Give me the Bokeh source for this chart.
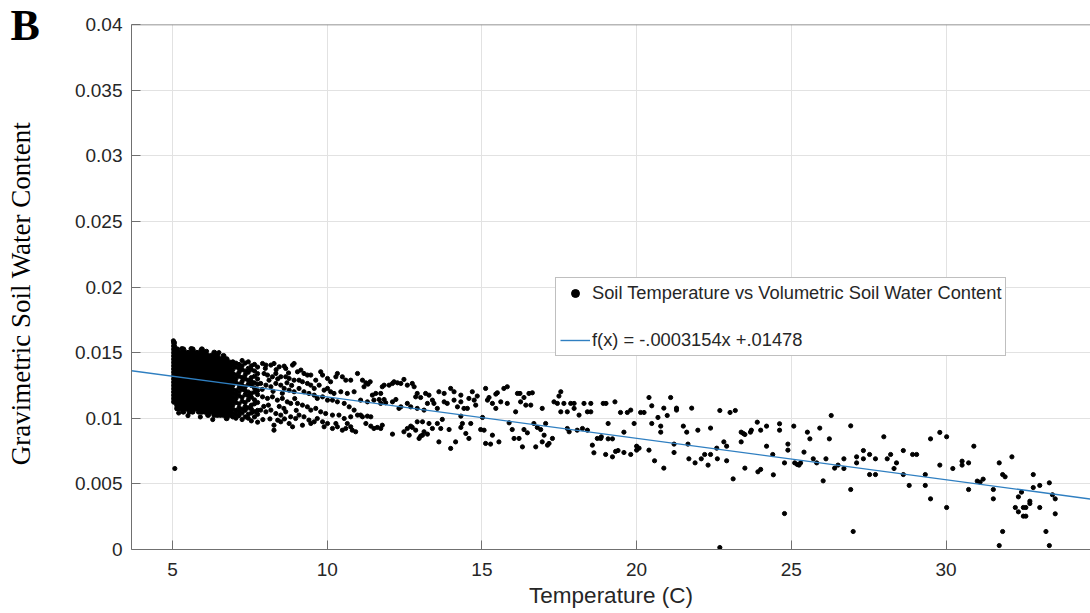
from bokeh.plotting import figure
from bokeh.models import (Range1d, FixedTicker, CustomJSTickFormatter, Legend, LegendItem,
                          Label, Span, ColumnDataSource)
from bokeh.layouts import row
from bokeh.embed import file_html
from bokeh.resources import INLINE

# ---------------- data ----------------
# dense block near 5-7 C: column temperatures and the water contents in each column
dense_col_temp = [5.05, 5.15, 5.25, 5.35, 5.45, 5.55, 5.65, 5.75, 5.85, 5.95,
                  6.05, 6.15, 6.25, 6.35, 6.45, 6.55, 6.65, 6.75, 6.85]
dense_col_swc = [
    [0.01125, 0.0115, 0.01175, 0.012, 0.01225, 0.0125, 0.01275, 0.013, 0.01325, 0.0135, 0.01375, 0.014, 0.01425, 0.0145, 0.01475, 0.015, 0.01525, 0.0155, 0.01575],
    [0.01075, 0.011, 0.01125, 0.0115, 0.01175, 0.012, 0.01225, 0.0125, 0.01275, 0.013, 0.01325, 0.0135, 0.01375, 0.014, 0.01425, 0.0145, 0.01475, 0.015, 0.01525],
    [0.01075, 0.011, 0.01125, 0.0115, 0.01175, 0.012, 0.01225, 0.0125, 0.01275, 0.013, 0.01325, 0.0135, 0.01375, 0.014, 0.01425, 0.0145, 0.01475, 0.015],
    [0.0105, 0.01075, 0.011, 0.01125, 0.0115, 0.01175, 0.012, 0.01225, 0.0125, 0.01275, 0.013, 0.01325, 0.0135, 0.01375, 0.014, 0.01425, 0.0145, 0.01475, 0.015, 0.01525],
    [0.01075, 0.011, 0.01125, 0.0115, 0.01175, 0.012, 0.01225, 0.0125, 0.01275, 0.013, 0.01325, 0.0135, 0.01375, 0.014, 0.01425, 0.0145, 0.01475, 0.015],
    [0.0105, 0.01075, 0.011, 0.01125, 0.0115, 0.01175, 0.012, 0.01225, 0.0125, 0.01275, 0.013, 0.01325, 0.0135, 0.01375, 0.014, 0.01425, 0.0145, 0.01475, 0.015],
    [0.0105, 0.01075, 0.011, 0.01125, 0.0115, 0.01175, 0.012, 0.01225, 0.0125, 0.01275, 0.013, 0.01325, 0.0135, 0.01375, 0.014, 0.01425, 0.0145, 0.01475, 0.015, 0.01525],
    [0.01075, 0.011, 0.01125, 0.0115, 0.01175, 0.012, 0.01225, 0.0125, 0.01275, 0.013, 0.01325, 0.0135, 0.01375, 0.014, 0.01425, 0.0145, 0.01475, 0.015],
    [0.0105, 0.01075, 0.011, 0.01125, 0.0115, 0.01175, 0.012, 0.01225, 0.0125, 0.01275, 0.013, 0.01325, 0.0135, 0.01375, 0.014, 0.01425, 0.0145, 0.01475, 0.015],
    [0.0105, 0.01075, 0.011, 0.01125, 0.0115, 0.01175, 0.012, 0.01225, 0.0125, 0.01275, 0.013, 0.01325, 0.0135, 0.01375, 0.014, 0.01425, 0.0145, 0.01475, 0.015, 0.01525],
    [0.0105, 0.01075, 0.011, 0.01125, 0.0115, 0.01175, 0.012, 0.01225, 0.0125, 0.01275, 0.013, 0.01325, 0.0135, 0.01375, 0.014, 0.01425, 0.0145, 0.01475, 0.015],
    [0.01025, 0.0105, 0.01075, 0.011, 0.01125, 0.0115, 0.01175, 0.012, 0.01225, 0.0125, 0.01275, 0.013, 0.01325, 0.0135, 0.01375, 0.014, 0.01425, 0.0145, 0.01475],
    [0.0105, 0.01075, 0.011, 0.01125, 0.0115, 0.01175, 0.012, 0.01225, 0.0125, 0.01275, 0.013, 0.01325, 0.0135, 0.01375, 0.014, 0.01425, 0.0145, 0.01475],
    [0.01025, 0.0105, 0.01075, 0.011, 0.01125, 0.0115, 0.01175, 0.012, 0.01225, 0.0125, 0.01275, 0.013, 0.01325, 0.0135, 0.01375, 0.014, 0.01425, 0.0145, 0.01475, 0.015],
    [0.01025, 0.0105, 0.01075, 0.011, 0.01125, 0.0115, 0.01175, 0.012, 0.01225, 0.0125, 0.01275, 0.013, 0.01325, 0.0135, 0.01375, 0.014, 0.01425, 0.0145, 0.01475],
    [0.01025, 0.0105, 0.01075, 0.011, 0.01125, 0.0115, 0.01175, 0.012, 0.01225, 0.0125, 0.01275, 0.013, 0.01325, 0.0135, 0.01375, 0.014, 0.01425, 0.0145],
    [0.01025, 0.0105, 0.01075, 0.011, 0.01125, 0.0115, 0.01175, 0.012, 0.01225, 0.0125, 0.01275, 0.013, 0.01325, 0.0135, 0.01375, 0.014, 0.01425, 0.0145, 0.01475],
    [0.01, 0.01025, 0.0105, 0.01075, 0.011, 0.01125, 0.0115, 0.01175, 0.012, 0.01225, 0.0125, 0.01275, 0.013, 0.01325, 0.0135, 0.01375, 0.014, 0.01425, 0.0145],
    [0.01025, 0.0105, 0.01075, 0.011, 0.01125, 0.0115, 0.01175, 0.012, 0.01225, 0.0125, 0.01275, 0.013, 0.01325, 0.0135, 0.01375, 0.014, 0.01425],
]

# loose edge points and the outlier near 5 C
edge_temp = [5.03, 5.2, 5.5, 5.9, 6.3, 5.6, 5.95, 6.5, 6.1, 5.3, 5.075]
edge_swc = [0.0159, 0.0104, 0.0102, 0.0101, 0.0099, 0.0153, 0.0152, 0.0150, 0.0151, 0.0153, 0.00617]

# half-filled band 6.9 - 7.8 C
band_col_temp = [6.95, 7.05, 7.15, 7.25, 7.35, 7.45, 7.55, 7.65, 7.75]
band_col_swc = [
    [0.0101, 0.0104, 0.0107, 0.0110, 0.0113, 0.0116, 0.0119, 0.0122, 0.0125, 0.0128, 0.0131, 0.0134, 0.0137, 0.0140, 0.0143],
    [0.0100, 0.0103, 0.0106, 0.0112, 0.0115, 0.0118, 0.0121, 0.0127, 0.0130, 0.0133, 0.0139, 0.0142],
    [0.0102, 0.0105, 0.0108, 0.0111, 0.0117, 0.0120, 0.0123, 0.0126, 0.0132, 0.0135, 0.0138, 0.0141],
    [0.0099, 0.0104, 0.0107, 0.0113, 0.0116, 0.0122, 0.0125, 0.0128, 0.0131, 0.0137, 0.0140, 0.0144],
    [0.0101, 0.0106, 0.0109, 0.0112, 0.0118, 0.0121, 0.0124, 0.0130, 0.0133, 0.0136, 0.0142],
    [0.0100, 0.0103, 0.0108, 0.0114, 0.0117, 0.0120, 0.0126, 0.0129, 0.0135, 0.0138, 0.0143],
    [0.0098, 0.0104, 0.0107, 0.0110, 0.0116, 0.0119, 0.0125, 0.0128, 0.0131, 0.0137, 0.0140],
    [0.0101, 0.0105, 0.0111, 0.0114, 0.0120, 0.0123, 0.0127, 0.0132, 0.0136, 0.0141],
    [0.0097, 0.0103, 0.0106, 0.0112, 0.0118, 0.0121, 0.0126, 0.0130, 0.0134, 0.0139],
]

# 7.8 - 11 C
cool_temp = [7.91, 8.02, 8.18, 8.28, 8.45, 8.61, 8.66, 8.88, 8.93, 9.04, 9.15, 9.25, 9.36, 9.47, 9.63, 9.79, 9.85, 10.01, 10.11, 10.28, 10.33, 10.49, 10.60, 10.76, 10.98,
             7.96, 8.07, 8.23, 8.34, 8.50, 8.66, 8.77, 8.93, 9.09, 9.20, 9.36, 9.47, 9.58, 9.74, 9.90, 10.01, 10.11, 10.22, 10.44, 10.65, 10.87,
             7.85, 8.02, 8.18, 8.34, 8.50, 8.61, 8.77, 8.93, 9.09, 9.25, 9.41, 9.58, 9.68, 9.85, 10.01, 10.17, 10.33, 10.55, 10.71, 10.87,
             7.91, 8.07, 8.23, 8.39, 8.55, 8.71, 8.82, 9.04, 9.20, 9.36, 9.47, 9.63, 9.79, 9.95, 10.17, 10.38, 10.55, 10.76, 10.98,
             7.85, 8.02, 8.18, 8.34, 8.50, 8.66, 8.82, 8.98, 9.09, 9.25, 9.41, 9.58, 9.68, 9.85, 10.01, 10.17, 10.33, 10.49, 10.60, 10.76, 10.92,
             8.28, 8.28, 8.50, 8.77, 8.88, 9.20, 9.47, 9.90, 10.28, 10.65, 10.81,
             8.00, 8.12, 8.40, 8.55, 8.70, 7.90, 8.10, 8.45, 8.60, 8.85, 8.95, 7.95, 8.25, 8.35, 8.75, 9.00, 8.15, 8.40, 8.62, 7.92]
cool_swc = [0.01417, 0.01405, 0.01405, 0.01417, 0.01392, 0.01397, 0.01379, 0.01405, 0.01417, 0.01354, 0.01367, 0.01341, 0.01329, 0.01329, 0.01290, 0.01354, 0.01329, 0.01303, 0.01278, 0.01316, 0.01341, 0.01316, 0.01290, 0.01290, 0.01341,
            0.01341, 0.01329, 0.01316, 0.01341, 0.01316, 0.01316, 0.01303, 0.01290, 0.01290, 0.01278, 0.01265, 0.01252, 0.01227, 0.01252, 0.01214, 0.01227, 0.01202, 0.01189, 0.01202, 0.01189, 0.01202,
            0.01265, 0.01252, 0.01240, 0.01265, 0.01252, 0.01227, 0.01214, 0.01202, 0.01227, 0.01202, 0.01189, 0.01176, 0.01151, 0.01163, 0.01138, 0.01138, 0.01125, 0.01113, 0.01087, 0.01062,
            0.01163, 0.01151, 0.01163, 0.01138, 0.01151, 0.01125, 0.01113, 0.01113, 0.01100, 0.01087, 0.01062, 0.01075, 0.01049, 0.01036, 0.01024, 0.01024, 0.00998, 0.01011, 0.01024,
            0.01062, 0.01049, 0.01062, 0.01036, 0.01024, 0.01049, 0.01011, 0.00998, 0.01024, 0.01011, 0.00986, 0.00973, 0.00998, 0.00973, 0.00960, 0.00922, 0.00935, 0.00909, 0.00922, 0.00935, 0.00897,
            0.00947, 0.00909, 0.00973, 0.00960, 0.00935, 0.00947, 0.00960, 0.00935, 0.00960, 0.00960, 0.00909,
            0.01380, 0.01290, 0.01300, 0.01190, 0.01270, 0.01220, 0.01100, 0.01090, 0.01075, 0.01250, 0.01150, 0.01090, 0.01205, 0.01370, 0.01345, 0.01060, 0.00995, 0.00985, 0.00995, 0.00990]

# 11 - 19 C
mild_temp = [11.14, 11.25, 11.39, 11.19, 11.32, 11.46, 11.57, 11.73, 11.78, 11.84, 12.00, 12.11, 12.16, 12.27, 12.38, 12.48, 12.59, 12.75, 12.81, 12.91, 12.86, 13.02, 13.18, 13.29, 13.40, 13.61, 13.78, 13.99, 14.10, 14.32, 14.58, 14.69, 14.85, 15.12, 15.23, 15.45, 15.50, 15.71, 15.82, 16.15, 16.23, 16.36, 16.52, 16.63, 17.55, 17.49, 17.65, 17.87, 17.98, 18.30, 18.52,
             11.08, 11.30, 11.51, 11.68, 11.73, 11.84, 11.89, 12.11, 12.22, 12.32, 12.38, 12.59, 12.70, 12.91, 13.13, 13.24, 13.45, 13.56, 13.78, 13.88, 14.10, 14.21, 14.32, 14.42, 14.53, 14.75, 14.80, 15.18, 15.34, 15.45, 15.61, 15.82, 16.09, 16.25, 16.42, 16.58, 16.95, 17.33, 17.44, 17.55, 17.76, 17.98, 18.14, 18.41, 18.52,
             11.08, 11.14, 11.30, 11.41, 11.25, 11.41, 11.51, 11.62, 11.73, 11.78, 12.11, 12.48, 12.59, 12.65, 12.70, 12.75, 12.86, 12.97, 13.02, 13.08, 13.13, 13.24, 12.91, 13.08, 13.29, 13.40, 13.56, 13.67, 13.72, 13.94, 13.61, 13.99, 14.15, 14.32, 14.37, 14.32, 14.48, 14.58, 14.64, 14.96, 15.07, 15.02, 15.12, 15.28, 15.34, 15.55, 15.88, 15.98, 16.04, 16.20, 16.31, 16.36, 16.47, 16.68, 16.74, 16.79, 16.90, 16.95, 17.06, 17.12, 17.17, 17.28, 17.01, 17.76, 17.82, 18.08, 18.25, 18.41, 18.57, 18.62, 18.73, 18.84]
mild_swc = [0.01290, 0.01270, 0.01278, 0.01240, 0.01260, 0.01176, 0.01189, 0.01189, 0.01240, 0.01252, 0.01252, 0.01265, 0.01278, 0.01270, 0.01265, 0.01296, 0.01252, 0.01265, 0.01240, 0.01189, 0.01163, 0.01158, 0.01189, 0.01176, 0.01138, 0.01202, 0.01189, 0.01227, 0.01202, 0.01176, 0.01151, 0.01202, 0.01169, 0.01227, 0.01158, 0.01184, 0.01194, 0.01227, 0.01240, 0.01189, 0.01189, 0.01158, 0.01189, 0.01194, 0.01202, 0.01169, 0.01113, 0.01113, 0.01113, 0.01113, 0.01113,
            0.01138, 0.01125, 0.01138, 0.01143, 0.01113, 0.01143, 0.01118, 0.01125, 0.01143, 0.01075, 0.01087, 0.01113, 0.01087, 0.01075, 0.01062, 0.01113, 0.01113, 0.01075, 0.01125, 0.01113, 0.01138, 0.01087, 0.01125, 0.01075, 0.01075, 0.01138, 0.01100, 0.01138, 0.01113, 0.01075, 0.01125, 0.01113, 0.01049, 0.01125, 0.01100, 0.01100, 0.01075, 0.01125, 0.01113, 0.01049, 0.01049, 0.01075, 0.01024, 0.01049, 0.01049,
            0.01024, 0.01011, 0.01016, 0.01011, 0.00960, 0.00940, 0.00922, 0.00930, 0.00922, 0.00947, 0.00879, 0.00897, 0.00922, 0.00871, 0.00940, 0.00930, 0.00909, 0.00846, 0.00864, 0.00871, 0.00897, 0.00879, 0.00973, 0.00973, 0.00960, 0.00922, 0.00960, 0.00922, 0.00991, 0.00914, 0.00820, 0.00770, 0.00820, 0.00930, 0.00960, 0.01016, 0.00884, 0.00846, 0.00960, 0.00914, 0.00909, 0.01006, 0.00808, 0.00803, 0.00871, 0.00820, 0.00965, 0.00914, 0.00846, 0.00846, 0.00782, 0.00914, 0.00889, 0.00960, 0.00782, 0.00930, 0.00914, 0.00820, 0.00960, 0.00795, 0.00808, 0.00846, 0.00871, 0.00922, 0.00897, 0.00909, 0.00922, 0.00909, 0.00795, 0.00737, 0.00846, 0.00846]

# 19 - 26.5 C
warm_temp = [18.92, 19.01, 19.30, 19.48, 19.70, 19.81, 19.08, 19.59, 19.92, 18.86, 19.08, 19.22, 19.00, 19.22, 19.32, 19.40, 19.59, 19.81, 20.00, 20.00, 20.08, 20.13, 20.24, 20.40, 20.49, 20.49, 20.69, 20.78, 20.78, 20.88, 20.99, 21.10, 21.29, 21.29, 20.40, 20.58, 20.88, 21.21, 21.21, 21.51, 21.62, 21.66, 21.69, 21.78, 21.89, 21.98, 22.09, 22.20, 22.31, 22.39, 22.39, 22.59, 22.61, 22.69, 22.82, 22.91, 22.91, 23.02, 23.12, 23.19, 23.38, 23.38, 23.45, 23.50, 23.50, 23.68, 23.71, 23.90, 23.92, 24.01, 24.01, 24.20, 24.20, 24.40, 24.42, 24.62, 24.62, 24.89, 24.89, 24.78, 24.78, 25.08, 25.11, 25.19, 25.25, 25.30, 25.41, 25.52, 25.60, 25.71, 25.82, 25.92, 26.03, 26.12, 26.23, 26.29, 26.40, 26.51, 22.69]
warm_swc = [0.01113, 0.01113, 0.01125, 0.01044, 0.01044, 0.01062, 0.00960, 0.00894, 0.00960, 0.00859, 0.00843, 0.00843, 0.00724, 0.00706, 0.00747, 0.00754, 0.00739, 0.00724, 0.00757, 0.00787, 0.00772, 0.01044, 0.01044, 0.01158, 0.01095, 0.00960, 0.01006, 0.00894, 0.00940, 0.01077, 0.01021, 0.01158, 0.01077, 0.01062, 0.00757, 0.00676, 0.00620, 0.00803, 0.00739, 0.00940, 0.00894, 0.00803, 0.00691, 0.01077, 0.00660, 0.00909, 0.00691, 0.00724, 0.00643, 0.00925, 0.00724, 0.00772, 0.00691, 0.01059, 0.00820, 0.00787, 0.00676, 0.01044, 0.00538, 0.01059, 0.00894, 0.00820, 0.00884, 0.00876, 0.00620, 0.00894, 0.00909, 0.00970, 0.00592, 0.00909, 0.00610, 0.00940, 0.00787, 0.00724, 0.00569, 0.00958, 0.00909, 0.00803, 0.00757, 0.00660, 0.00274, 0.00940, 0.00660, 0.00648, 0.00643, 0.00660, 0.00742, 0.00894, 0.00843, 0.00691, 0.00660, 0.00925, 0.00523, 0.00691, 0.00843, 0.01021, 0.00620, 0.00643, 0.00015]

# 26.5 - 34 C
hot_temp = [26.92, 26.70, 26.70, 27.11, 27.11, 27.33, 27.33, 27.53, 27.53, 27.72, 27.72, 27.99, 28.10, 28.21, 28.32, 28.40, 28.62, 28.62, 28.81, 28.92, 29.05, 29.33, 29.33, 29.50, 29.50, 29.80, 29.80, 30.02, 30.02, 30.22, 30.52, 30.52, 30.73, 30.73, 30.90, 31.01, 31.10, 31.20, 31.53, 31.53, 31.72, 31.72, 31.83, 31.91, 31.83, 32.13, 32.24, 32.34, 32.34, 32.44, 32.50, 32.50, 32.58, 32.58, 32.71, 32.71, 32.82, 32.82, 33.03, 33.03, 33.23, 33.34, 33.34, 33.44, 33.53, 33.53, 26.92, 27.00]
hot_swc = [0.00942, 0.00691, 0.00617, 0.00706, 0.00660, 0.00754, 0.00691, 0.00724, 0.00571, 0.00691, 0.00571, 0.00859, 0.00691, 0.00724, 0.00617, 0.00660, 0.00754, 0.00571, 0.00488, 0.00724, 0.00724, 0.00571, 0.00488, 0.00843, 0.00386, 0.00892, 0.00643, 0.00859, 0.00320, 0.00617, 0.00673, 0.00643, 0.00660, 0.00457, 0.00787, 0.00521, 0.00513, 0.00536, 0.00457, 0.00386, 0.00660, 0.00030, 0.00571, 0.00554, 0.00137, 0.00706, 0.00320, 0.00401, 0.00287, 0.00437, 0.00320, 0.00254, 0.00320, 0.00254, 0.00350, 0.00368, 0.00571, 0.00472, 0.00488, 0.00320, 0.00137, 0.00508, 0.00030, 0.00417, 0.00386, 0.00272, 0.00457, 0.00137]

# linear fit shown in the legend
fit_slope = -0.0003154
fit_intercept = 0.01478
fit_temp = [3.675, 34.67]

x_ticks = [5, 10, 15, 20, 25, 30]
y_ticks = [0, 0.005, 0.01, 0.015, 0.02, 0.025, 0.03, 0.035, 0.04]

# ---------------- assemble ----------------
block_temp, block_swc = [], []
for t, ys in zip(dense_col_temp, dense_col_swc):
    block_temp += [t] * len(ys)
    block_swc += ys

temp, swc = [], []
for t, ys in zip(band_col_temp, band_col_swc):
    temp += [t] * len(ys)
    swc += ys
for tt, ss in [(edge_temp, edge_swc), (cool_temp, cool_swc), (mild_temp, mild_swc),
               (warm_temp, warm_swc), (hot_temp, hot_swc)]:
    temp += tt
    swc += ss
fit_swc = [fit_slope * t + fit_intercept for t in fit_temp]

block_src = ColumnDataSource(dict(temp=block_temp, swc=block_swc))
src = ColumnDataSource(dict(temp=temp, swc=swc))

SANS = "Liberation Sans"
SERIF = "Liberation Serif"
AX = "#707070"
TXT = "#262626"

# ---------- left strip: panel letter and the y-axis title ----------
side = figure(width=60, height=613, output_backend="svg", toolbar_location=None,
              x_range=Range1d(0, 1), y_range=Range1d(0, 1), title=None,
              x_axis_type=None, y_axis_type=None,
              min_border_left=0, min_border_right=0, min_border_top=0, min_border_bottom=0)
side.outline_line_color = None
side.xgrid.visible = False
side.ygrid.visible = False
side.add_layout(Label(x=10, y=588, x_units="screen", y_units="screen", text="B",
                      text_font=SERIF, text_font_size="44px", text_font_style="bold",
                      text_color="black", text_baseline="alphabetic", text_align="left"))
side.add_layout(Label(x=20, y=320, x_units="screen", y_units="screen",
                      text="Gravimetric Soil Water Content", angle=90, angle_units="deg",
                      text_font=SERIF, text_font_size="27px", text_color="black",
                      text_baseline="alphabetic", text_align="center"))

# ---------- main chart ----------
p = figure(width=1030, height=613, output_backend="svg", toolbar_location=None,
           x_range=Range1d(fit_temp[0], fit_temp[1]), y_range=Range1d(0, 0.04), title=None,
           min_border_left=71, min_border_right=0, min_border_top=24, min_border_bottom=64)
p.outline_line_color = None
p.background_fill_color = "white"
p.border_fill_color = "white"

# keep the two canvases independent (no shared frame edges)
for fig in (side, p):
    if hasattr(fig, "frame_align"):
        fig.frame_align = False

p.scatter("temp", "swc", source=block_src, size=5, marker="circle",
          fill_color="black", line_color="black")
r_pts = p.scatter("temp", "swc", source=src, size=4.2, marker="circle",
                  fill_color="black", line_color="black")
r_fit = p.line(fit_temp, fit_swc, line_color="#2f7fc1", line_width=1.4)

for ax in (p.xaxis[0], p.yaxis[0]):
    ax.axis_line_color = AX
    ax.major_tick_line_color = AX
    ax.major_tick_in = 9
    ax.major_tick_out = 0
    ax.minor_tick_line_color = None
    ax.major_label_text_font = SANS
    ax.major_label_text_font_size = "19px"
    ax.major_label_text_color = TXT

p.xaxis.ticker = FixedTicker(ticks=x_ticks)
p.xaxis.major_label_standoff = 13
p.xaxis.axis_label = "Temperature (C)"
p.xaxis.axis_label_text_font = SANS
p.xaxis.axis_label_text_font_size = "22.5px"
p.xaxis.axis_label_text_font_style = "normal"
p.xaxis.axis_label_text_color = TXT
p.xaxis.axis_label_standoff = 4

p.yaxis.ticker = FixedTicker(ticks=y_ticks)
p.yaxis.formatter = CustomJSTickFormatter(code="return tick.toFixed(3).replace(/\\.?0+$/, '');")
p.yaxis.major_label_standoff = 9

# top edge of the axes box
p.add_layout(Span(location=0.04, dimension="width", line_color=AX, line_width=1.5))

p.xgrid.ticker = FixedTicker(ticks=x_ticks)
p.ygrid.ticker = FixedTicker(ticks=y_ticks)
p.xgrid.grid_line_color = "#e2e2e2"
p.ygrid.grid_line_color = "#e2e2e2"

legend = Legend(items=[
    LegendItem(label="Soil Temperature vs Volumetric Soil Water Content", renderers=[r_pts]),
    LegendItem(label="f(x) = -.0003154x +.01478", renderers=[r_fit]),
], location=(424, 193))
legend.label_text_font = SANS
legend.label_text_font_size = "18.3px"
legend.label_text_color = TXT
legend.border_line_color = "#808080"
legend.border_line_width = 1
legend.padding = 4
legend.spacing = 25
legend.margin = 0
legend.glyph_width = 30
legend.glyph_height = 20
legend.label_height = 20
legend.label_standoff = 2
legend.background_fill_alpha = 1
p.add_layout(legend)

layout = row(side, p)
open("out.html", "w").write(file_html(layout, INLINE))
